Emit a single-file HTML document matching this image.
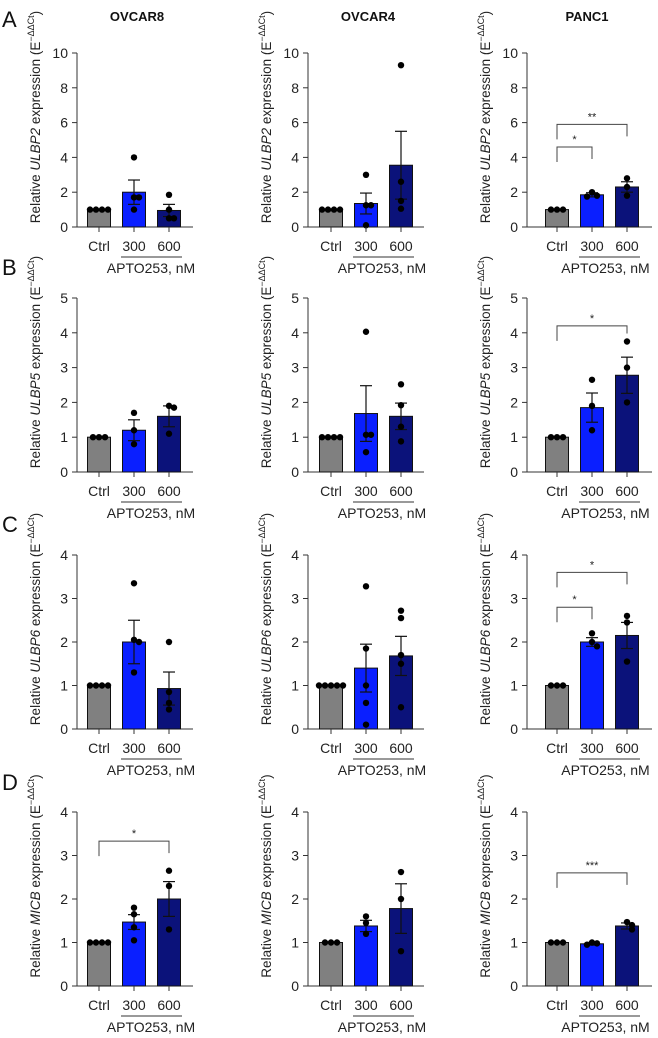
<!DOCTYPE html>
<html><head><meta charset="utf-8"><style>
body{margin:0;background:#fff}
svg{display:block;font-family:"Liberation Sans",Arial,sans-serif}
</style></head><body>
<svg id="fig" width="658" height="1038" viewBox="0 0 658 1038" xmlns="http://www.w3.org/2000/svg"></svg>
<script>
// data
const rowGenes = ["ULBP2","ULBP5","ULBP6","MICB"];
const rowMax = [10,5,4,4];
const rowStep = [2,1,1,1];
const colTitles = ["OVCAR8","OVCAR4","PANC1"];
const groups = ["Ctrl","300","600"];
const means = [
 [[1,2.0,0.95],[1,1.35,3.55],[1,1.85,2.3]],
 [[1,1.2,1.6],[1,1.68,1.6],[1,1.85,2.78]],
 [[1,2.0,0.93],[1,1.4,1.68],[1,2.0,2.15]],
 [[1,1.47,2.0],[1,1.38,1.78],[1,0.97,1.38]]
];
const sems = [
 [[0,0.7,0.35],[0,0.6,1.95],[0,0.12,0.3]],
 [[0,0.3,0.3],[0,0.8,0.38],[0,0.42,0.52]],
 [[0,0.5,0.38],[0,0.55,0.45],[0,0.1,0.3]],
 [[0,0.17,0.4],[0,0.13,0.57],[0,0.03,0.07]]
];
const points = [
 [[[1,1,1,1],[4.0,1.7,1.7,1.0],[1.85,1.0,0.5,0.5]],[[1,1,1,1],[3.0,1.25,1.25,0.1],[9.3,2.6,1.5,1.05]],[[1,1,1],[2.0,1.8,1.75],[2.8,2.3,1.8]]],
 [[[1,1,1],[1.7,1.2,0.8],[1.9,1.85,1.1]],[[1,1,1,1],[4.03,1.07,1.07,0.57],[2.52,1.92,1.3,0.88]],[[1,1,1],[2.65,1.9,1.2],[3.75,3.0,2.0]]],
 [[[1,1,1,1],[3.35,2.05,2.0,1.3],[2.0,0.85,0.6,0.45]],[[1,1,1,1,1],[3.28,1.85,1.0,0.6,0.1],[2.72,2.55,1.7,1.5,0.5]],[[1,1,1],[2.2,2.0,1.9],[2.6,2.45,1.55]]],
 [[[1,1,1,1],[1.8,1.65,1.35,1.05],[2.65,2.3,1.3]],[[1,1,1],[1.6,1.45,1.2],[2.62,2.0,0.8]],[[1,1,1],[1.0,0.98,0.95],[1.47,1.4,1.3]]]
];
const sigRows = [0,0,1,2,2,3,3];
const sigCols = [2,2,2,2,2,0,2];
const sigTo = [1,2,2,1,2,2,2];
const sigLevel = [4.6,5.9,4.2,2.8,3.6,3.33,2.6];
const sigLabel = ["*","**","*","*","*","*","***"];

const svg=document.getElementById('fig');
const NS="http://www.w3.org/2000/svg";
function mk(tag,attrs,parent){const e=document.createElementNS(NS,tag);for(const k in attrs)e.setAttribute(k,attrs[k]);(parent||svg).appendChild(e);return e;}
const rowTop=[53,298,555,812];
const colAxis=[77,308,527];
const colBar0=[22,23,30];
const colGap=[35,35,35];
const colEnd=[116,116,125];
const H=174;
const fills=["#808080","#0a1fff","#0b127a"];
const panelLetters=["A","B","C","D"];
const letterY=[27,275,532,790];

colTitles.forEach((t,c)=>{
 const e=mk('text',{x:colAxis[c]+60,y:21,'text-anchor':'middle','font-size':13,'font-weight':'bold',fill:'#111'});
 e.textContent=t;
 
 
});
panelLetters.forEach((L,r)=>{
 const e=mk('text',{x:2,y:letterY[r],'font-size':22,fill:'#111'});
 e.textContent=L;
 
 
});

for(let r=0;r<4;r++)for(let c=0;c<3;c++){
 const g=mk('g',{});
 
 
 const x0=colAxis[c], top=rowTop[r], zero=top+H;
 const y=v=>zero - v/rowMax[r]*H;
 const bx=i=>x0+colBar0[c]+i*colGap[c];
 mk('line',{x1:x0,y1:top,x2:x0,y2:zero,stroke:'#333','stroke-width':1},g);
 for(let v=0;v<=rowMax[r];v+=rowStep[r]){
  mk('line',{x1:x0-5,y1:y(v),x2:x0,y2:y(v),stroke:'#333','stroke-width':1},g);
  const t=mk('text',{x:x0-9,y:y(v)+5,'text-anchor':'end','font-size':14,fill:'#222'},g);
  t.textContent=v;
  
  
 }
 const lx=x0-37, ly=top+H/2-23;
 const yl=mk('text',{x:lx,y:ly,'text-anchor':'middle','font-size':13.5,fill:'#222',transform:`rotate(-90 ${lx} ${ly})`},g);
 
 
 yl.innerHTML=`Relative <tspan font-style="italic">${rowGenes[r]}</tspan> expression (E<tspan font-size="9" dy="-6">−ΔΔCt</tspan><tspan dy="6">)</tspan>`;
 mk('line',{x1:x0,y1:zero,x2:x0+colEnd[c],y2:zero,stroke:'#333','stroke-width':1},g);
 for(let i=0;i<3;i++){
  const cx=bx(i), m=means[r][c][i], s=sems[r][c][i];
  const b=mk('rect',{x:cx-11.5,y:y(m),width:23,height:zero-y(m),fill:fills[i],stroke:'#111','stroke-width':1},g);
  
  
  if(s>0){
   mk('line',{x1:cx,y1:y(m-s),x2:cx,y2:y(m+s),stroke:'#111','stroke-width':1.2},g);
   mk('line',{x1:cx-6,y1:y(m+s),x2:cx+6,y2:y(m+s),stroke:'#111','stroke-width':1.2},g);
   mk('line',{x1:cx-6,y1:y(m-s),x2:cx+6,y2:y(m-s),stroke:'#111','stroke-width':1.2},g);
  }
  const pts=points[r][c][i], n=pts.length;
  pts.forEach((p,k)=>{
   let dx=0;
   if(p===1 && i===0) dx=(k-(n-1)/2)*6; else { const same=pts.filter((q,j)=>Math.abs(q-p)<0.15*rowMax[r]/5&&j<k).length; dx=same? (same%2?5:-5):0; }
   const d=mk('circle',{cx:cx+dx,cy:y(p),r:3.2,fill:'#000'},g);
   
   
  });
  mk('line',{x1:cx,y1:zero,x2:cx,y2:zero+5,stroke:'#333','stroke-width':1},g);
  const xl=mk('text',{x:cx,y:zero+24,'text-anchor':'middle','font-size':14,fill:'#222'},g);
  xl.textContent=groups[i];
  
  
 }
 mk('line',{x1:bx(1)-13,y1:zero+30,x2:bx(2)+13,y2:zero+30,stroke:'#333','stroke-width':1},g);
 const ap=mk('text',{x:x0+colEnd[c]/2+16,y:zero+46,'text-anchor':'middle','font-size':14,fill:'#222'},g);
 ap.textContent='APTO253, nM';
 
 
}
for(let k=0;k<sigRows.length;k++){
 const r=sigRows[k], c=sigCols[k], x0=colAxis[c], zero=rowTop[r]+H;
 const y=v=>zero - v/rowMax[r]*H;
 const bx=i=>x0+colBar0[c]+i*colGap[c];
 const yt=y(sigLevel[k]);
 const x1=bx(0), x2=bx(sigTo[k]);
 const topOfTarget=Math.max(...points[r][c][sigTo[k]], means[r][c][sigTo[k]]+sems[r][c][sigTo[k]]);
 const yR=Math.min(y(topOfTarget)-8, yt+12);
 const yL=Math.min(y(1.15), yt+15);
 const p=mk('path',{d:`M${x1} ${yL} V${yt} H${x2} V${yR}`,fill:'none',stroke:'#444','stroke-width':1});
 
 
 const t=mk('text',{x:(x1+x2)/2,y:yt-4,'text-anchor':'middle','font-size':11,fill:'#222'});
 t.textContent=sigLabel[k];
 
 
}
</script>
</body></html>
